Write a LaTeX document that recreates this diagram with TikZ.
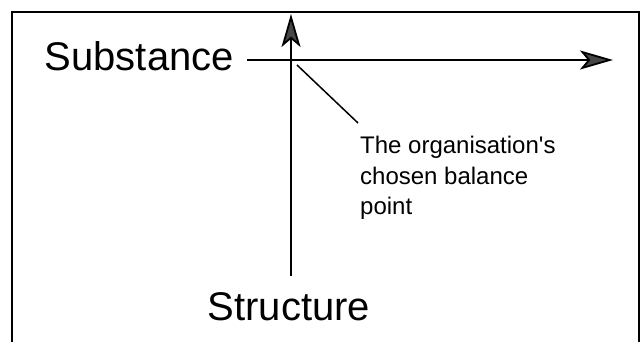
\documentclass[tikz,border=0pt]{standalone}
\usepackage{fontspec}
\setmainfont{Liberation Sans}[Ligatures=TeXOff]
\definecolor{headgray}{RGB}{70,70,70}
\usetikzlibrary{arrows.meta, positioning}

\begin{document}
\begin{tikzpicture}[x=1pt, y=1pt,
  axarw/.style={line width=1.8pt,
    -{Stealth[length=33pt, width=19pt, inset=8pt, fill=headgray]}},
  lbl/.style={font=\fontsize{40}{48}\selectfont, inner xsep=13pt},
  note/.style={font=\fontsize{24}{30.5}\selectfont, align=left,
    inner xsep=2pt, inner ysep=13pt},
]
\useasboundingbox (0,0) rectangle (643,342);
\draw[line width=1.8pt] (12,-10) -- (12,330) -- (639,330) -- (639,-10);

\coordinate (bal) at (291,282);
\coordinate (up) at (291,328);
\coordinate (right) at (613,282);
\coordinate (tick) at (297,277);

\node[lbl, anchor=base east] (subst) at (247,271) {Substance};
\node[lbl, anchor=base, inner ysep=17pt] (struct) at (289,21) {Structure};
\node[note, anchor=north west] (note) at (358,219)
  {The organisation's\\chosen balance\\point};

\draw[axarw] (subst.east |- bal) -- (right);
\draw[axarw] (struct.north -| bal) -- (up);
\draw[line width=1.5pt] (tick) -- (note.north west);
\end{tikzpicture}
\end{document}
